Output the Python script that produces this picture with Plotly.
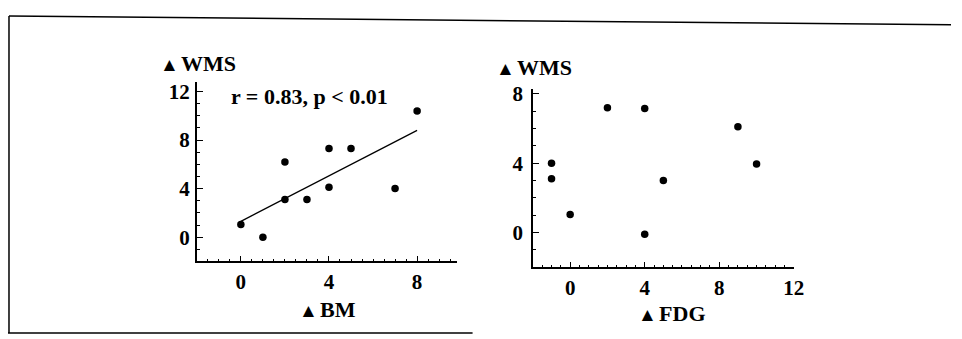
import plotly.graph_objects as go

W, H = 962, 339
OFF = 8  # page body margin of the browser
FW, FH = W - OFF, H - OFF

# ---- data ----
bm_x = [0, 1, 2, 2, 3, 4, 4, 5, 7, 8]
bm_wms = [1.05, 0.0, 6.2, 3.1, 3.1, 7.3, 4.1, 7.3, 4.0, 10.4]
fit_x = [0, 8]
fit_y = [1.3, 8.8]

fdg_x = [-1, -1, 0, 2, 4, 4, 5, 9, 10]
fdg_wms = [4.0, 3.1, 1.05, 7.2, 7.15, -0.1, 3.0, 6.1, 3.95]

left_xticks = [0, 4, 8]
left_yticks = [0, 4, 8, 12]
right_xticks = [0, 4, 8, 12]
right_yticks = [0, 4, 8]

FONT = "Liberation Serif"

def px_x(p):
    return (p - OFF) / FW

def px_y(p):
    return 1 - (p - OFF) / FH

fig = go.Figure()
fig.add_trace(go.Scatter(x=bm_x, y=bm_wms, mode="markers",
                         marker=dict(color="black", size=7.5), xaxis="x", yaxis="y",
                         showlegend=False))
fig.add_trace(go.Scatter(x=fit_x, y=fit_y, mode="lines",
                         line=dict(color="black", width=1.3), xaxis="x", yaxis="y",
                         showlegend=False))
fig.add_trace(go.Scatter(x=fdg_x, y=fdg_wms, mode="markers",
                         marker=dict(color="black", size=7.5), xaxis="x2", yaxis="y2",
                         showlegend=False))

def ax(domain, rng, tickvals, minor_dtick, anchor, standoff):
    return dict(domain=domain, range=rng, tickvals=tickvals, ticktext=[str(v) for v in tickvals],
                showline=True, linecolor="black", linewidth=1.5, ticks="inside",
                ticklen=6, tickwidth=1.2, tickcolor="black", showgrid=False, zeroline=False,
                minor=dict(dtick=minor_dtick, tick0=0, ticks="inside", ticklen=3,
                           tickwidth=1, tickcolor="black", showgrid=False),
                tickfont=dict(family=FONT, size=21, color="black", weight="bold"),
                ticklabelstandoff=standoff,
                anchor=anchor, fixedrange=True)

fig.update_layout(
    width=FW, height=FH, margin=dict(l=0, r=0, t=0, b=0),
    paper_bgcolor="white", plot_bgcolor="white", showlegend=False,
    xaxis=ax([px_x(199), px_x(462)], [-2, 9.8], left_xticks, 0.5, "y", 1),
    yaxis=ax([px_y(260), px_y(77)], [-2, 12.8], left_yticks, 1, "x", 1),
    xaxis2=ax([px_x(539), px_x(803)], [-2, 12], right_xticks, 0.5, "y2", 1),
    yaxis2=ax([px_y(266), px_y(84)], [-2, 8.3], right_yticks, 1, "x2", 4),
)

tri = "<span style='font-size:19px'>▲</span><span style='font-size:9px'> </span>"
labels = [
    (tri + "WMS", 160, 58),
    (tri + "WMS", 500, 62),
    (tri + "BM", 300, 309),
    (tri + "FDG", 643, 313),
]
for txt, x, y in labels:
    fig.add_annotation(text="<b>" + txt + "</b>", x=px_x(x), y=px_y(y), xref="paper", yref="paper",
                       xanchor="left", yanchor="middle", showarrow=False,
                       font=dict(family=FONT, size=22, color="black"))

fig.add_annotation(text="<b>r = 0.83, p < 0.01</b>", x=3.1, y=11.6, xref="x", yref="y",
                   showarrow=False, font=dict(family=FONT, size=22, color="black"))

# outer frame
border = [
    (9, 10, 962, 19),
    (9, 10, 9, 333),
    (7, 333, 478, 333),
]
for x0, y0, x1, y1 in border:
    fig.add_shape(type="line", xref="paper", yref="paper",
                  x0=px_x(x0), y0=px_y(y0), x1=px_x(x1), y1=px_y(y1),
                  line=dict(color="black", width=1.5))

fig.write_html("out.html")
